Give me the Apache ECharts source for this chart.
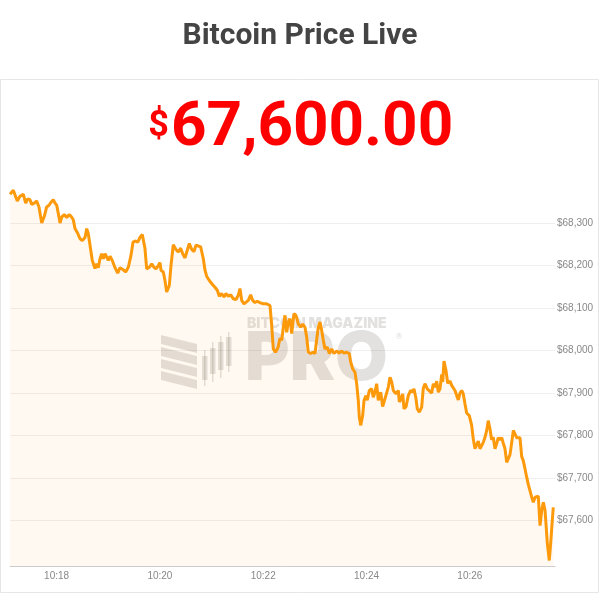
<!DOCTYPE html>
<html>
<head>
<meta charset="utf-8">
<script src="https://cdn.jsdelivr.net/npm/echarts@6/dist/echarts.min.js"></script>
<style>
  html, body { margin: 0; padding: 0; background: #fff; }
  #chart { width: 600px; height: 600px; }
</style>
</head>
<body>
<div id="chart"></div>
<script>
// minutes after 10:00 for each sample
var minutes = [
  17.098,17.162,17.195,17.239,17.292,17.355,17.402,17.441,17.485,17.518,
  17.568,17.615,17.659,17.712,17.762,17.808,17.853,17.892,17.936,17.969,
  18.002,18.047,18.066,18.099,18.149,18.196,18.240,18.279,18.323,18.356,
  18.408,18.453,18.498,18.550,18.583,18.614,18.647,18.691,18.743,18.776,
  18.807,18.840,18.873,18.904,18.937,18.970,19.001,19.034,19.078,19.131,
  19.183,19.227,19.260,19.291,19.338,19.388,19.440,19.479,19.531,19.570,
  19.614,19.659,
  19.711,19.744,19.794,19.841,19.885,19.924,19.969,20.002,20.021,20.066,
  20.098,20.131,20.182,20.214,20.259,20.311,20.356,20.402,20.441,20.486,
  20.530,20.569,20.615,20.660,20.698,20.743,20.789,20.840,20.873,20.905,
  20.956,20.983,21.022,21.066,21.111,21.150,21.196,21.240,21.279,21.324,
  21.370,21.420,21.473,21.517,21.550,21.583,21.628,21.666,21.711,21.757,
  21.796,21.840,21.885,21.937,22.001,22.067,22.131,22.164,22.195,22.237,
  22.286,22.324,22.357,22.389,22.421,22.454,22.485,22.518,22.551,22.595,
  22.634,22.679,22.725,22.764,22.808,22.841,22.872,22.919,22.958,23.002,
  23.035,23.066,23.099,23.132,23.163,23.195,23.240,23.279,23.325,23.370,
  23.422,23.472,23.519,23.563,23.615,23.666,23.693,23.732,23.776,23.809,
  23.840,23.860,23.887,23.925,23.951,23.989,24.014,24.053,24.099,24.130,
  24.163,24.196,24.227,24.274,24.312,24.357,24.390,24.421,24.454,24.487,
  24.518,24.570,24.615,24.634,24.661,24.700,24.725,24.764,24.808,24.854,
  24.893,24.918,24.957,24.982,25.021,25.067,25.098,25.131,25.176,25.214,
  25.261,25.292,25.325,25.358,25.389,25.422,25.455,25.474,25.499,25.538,
  25.571,25.615,25.648,25.679,25.712,25.745,25.776,25.809,25.842,25.873,
  25.905,25.938,25.989,26.035,26.066,26.099,26.132,26.163,26.196,26.229,
  26.260,26.293,26.326,26.356,26.389,26.422,26.453,26.486,26.519,26.550,
  26.583,26.616,26.647,26.680,26.713,26.744,26.777,26.810,26.841,26.873,
  26.906,26.937,26.970,27.003,27.034,27.067,27.100,27.131,27.164,27.197,
  27.228,27.261,27.294,27.325,27.358,27.391,27.422,27.454,27.474,27.499,
  27.537,27.564,27.595,27.615
];
var prices = [
  68368,68377,68373,68352,68363,68368,68347,68357,68355,68344,
  68347,68352,68338,68300,68316,68338,68342,68349,68355,68347,
  68342,68314,68300,68314,68320,68313,68320,68316,68308,68287,
  68276,68263,68259,68266,68287,68275,68248,68212,68193,68204,
  68195,68216,68228,68216,68228,68220,68212,68222,68212,68195,
  68182,68195,68198,68190,68185,68196,68224,68255,68258,68255,
  68266,68273,
  68240,68192,68196,68204,68196,68192,68200,68207,68189,68185,
  68165,68138,68153,68200,68249,68238,68232,68241,68228,68218,
  68236,68252,68238,68233,68248,68246,68244,68216,68189,68175,
  68165,68169,68155,68149,68142,68128,68134,68126,68134,68128,
  68131,68122,68120,68130,68146,68118,68110,68108,68118,68131,
  68118,68113,68116,68113,68110,68110,68106,68059,68004,67996,
  68007,68029,68024,68055,68083,68043,68067,68075,68040,68087,
  68083,68063,68055,68062,68055,68032,67996,67993,67996,67993,
  68026,68055,68067,68047,68024,68004,68008,67993,68004,67993,
  67999,67994,67999,67994,67996,67993,67973,67957,67949,67922,
  67883,67843,67824,67847,67883,67894,67883,67906,67910,67890,
  67902,67922,67883,67902,67868,67887,67890,67914,67937,67926,
  67906,67898,67906,67879,67884,67898,67863,67868,67894,67906,
  67902,67910,67887,67863,67855,67867,67911,67922,67910,67908,
  67900,67922,67914,67928,67902,67910,67944,67926,67975,67953,
  67923,67928,67918,67920,67906,67894,67884,67900,67906,67898,
  67875,67853,67847,67824,67792,67769,67773,67787,67769,67765,
  67784,67796,67812,67835,67816,67790,67796,67769,67781,67795,
  67790,67795,67782,67769,67737,67741,67755,67784,67812,67814,
  67795,67798,67795,67751,67741,67722,67702,67685,67682,67655,
  67643,67655,67651,67657,67588,67624,67643,67625,67592,67547,
  67506,67545,67600,67631
];
var titleText = 'Bitcoin Price Live';
var livePrice = '67,600.00';

var orange = '#fc9a0c';
var mark = 'rgba(70,55,40,0.15)';

var chart = echarts.init(document.getElementById('chart'));

var seriesData = minutes.map(function (m, i) { return [m, prices[i]]; });

// watermark pieces (logo behind the line)
var logo = [];
for (var s = 0; s < 4; s++) {
  var y0 = 335 + s * 12;
  logo.push({
    type: 'polygon', z: 1,
    shape: { points: [[161, y0], [197, y0 + 9], [197, y0 + 18], [161, y0 + 9]] },
    style: { fill: mark }
  });
}
var candles = [[202, 350, 386, 356, 380], [210, 342, 382, 348, 374], [218, 336, 378, 342, 370], [226, 332, 372, 337, 366]];
candles.forEach(function (c) {
  logo.push({ type: 'rect', z: 1, shape: { x: c[0] + 2, y: c[1], width: 1.5, height: c[2] - c[1] }, style: { fill: mark } });
  logo.push({ type: 'rect', z: 1, shape: { x: c[0], y: c[3], width: 5.5, height: c[4] - c[3] }, style: { fill: mark } });
});

chart.setOption({
  animation: false,
  backgroundColor: '#fff',
  grid: { left: 10, right: 45, top: 181, bottom: 34, outerBoundsMode: 'none' },
  xAxis: {
    type: 'value',
    min: 17.098,
    max: 27.648,
    splitNumber: 5,
    axisLine: { lineStyle: { color: '#cccccc', width: 1 } },
    axisTick: { show: false },
    splitLine: { show: false },
    axisLabel: {
      showMinLabel: false,
      showMaxLabel: false,
      margin: 5,
      color: '#888',
      fontSize: 10,
      fontFamily: 'Liberation Sans',
      formatter: function (v) { return '10:' + (v < 10 ? '0' : '') + Math.round(v); }
    }
  },
  yAxis: {
    type: 'value',
    position: 'right',
    min: 67493,
    max: 68399,
    splitNumber: 9,
    axisLine: { show: false },
    axisTick: { show: false },
    axisLabel: {
      showMinLabel: false,
      showMaxLabel: false,
      margin: 2,
      color: '#888',
      fontSize: 10,
      fontFamily: 'Liberation Sans',
      formatter: function (v) { return v < 67550 ? '' : '$' + v.toLocaleString('en-US'); }
    },
    splitLine: {
      showMinLine: false,
      showMaxLine: false,
      lineStyle: { color: ['rgba(0,0,0,0)', '#efefef', '#efefef', '#efefef', '#efefef', '#efefef', '#efefef', '#efefef', '#efefef'] }
    }
  },
  graphic: logo.concat([
    {
      type: 'rect', z: 0,
      shape: { x: 0.5, y: 79.5, width: 598, height: 513 },
      style: { fill: 'none', stroke: '#e6e6e6', lineWidth: 1 }
    },
    {
      type: 'text', z: 1,
      style: { text: 'BITCOIN MAGAZINE', x: 247, y: 324, verticalAlign: 'middle', fill: mark, font: '900 14px Inter' }
    },
    {
      type: 'text', z: 1,
      style: { text: 'PRO', x: 245, y: 360, verticalAlign: 'middle', fill: mark, font: '900 68px Inter' }
    },
    {
      type: 'text', z: 1,
      style: { text: '®', x: 396, y: 337, verticalAlign: 'middle', fill: mark, font: 'bold 9px Inter' }
    },
    {
      type: 'text', z: 10,
      style: { text: titleText, x: 300, y: 36, align: 'center', verticalAlign: 'middle', fill: '#444', font: 'bold 30px Roboto' }
    },
    {
      type: 'text', z: 10,
      style: { text: '$', x: 169, y: 127, align: 'right', verticalAlign: 'middle', fill: '#ff0000', font: 'bold 36px Roboto' }
    },
    {
      type: 'text', z: 10,
      style: { text: livePrice, x: 171, y: 129, align: 'left', verticalAlign: 'middle', fill: '#ff0000', font: 'bold 62px Roboto' }
    }
  ]),
  series: [{
    type: 'line',
    data: seriesData,
    showSymbol: false,
    smooth: false,
    lineStyle: { color: orange, width: 3 },
    itemStyle: { color: orange },
    areaStyle: { origin: 'start', color: 'rgba(250,150,20,0.08)' }
  }]
});
</script>
</body>
</html>
